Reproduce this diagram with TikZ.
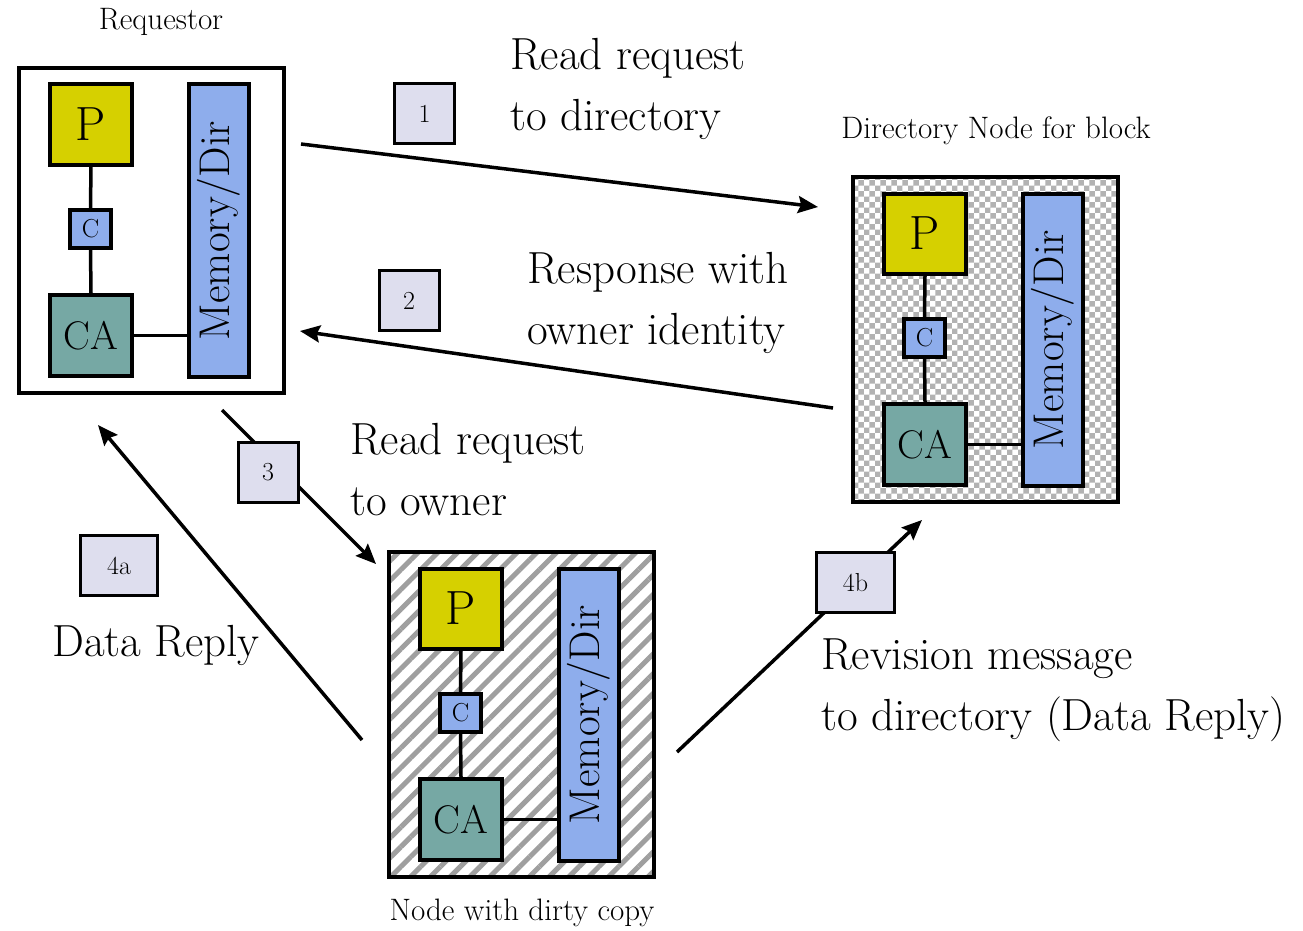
\documentclass[tikz,border=0pt]{standalone}
\usetikzlibrary{arrows.meta,patterns,patterns.meta}
\definecolor{pyel}{RGB}{214,208,0}
\definecolor{cblue}{RGB}{142,173,236}
\definecolor{cateal}{RGB}{118,168,164}
\definecolor{numbg}{RGB}{222,222,238}
\tikzset{
  outerbox/.style={draw=black,line width=4pt,minimum width=265pt,minimum height=325pt,inner sep=0pt},
  pbox/.style={draw=black,line width=4pt,fill=pyel,minimum width=82pt,minimum height=80pt,inner sep=0pt,font=\fontsize{48}{48}\selectfont},
  cbox/.style={draw=black,line width=4pt,fill=cblue,minimum width=41pt,minimum height=38pt,inner sep=0pt,font=\fontsize{26}{26}\selectfont},
  cabox/.style={draw=black,line width=4pt,fill=cateal,minimum width=82pt,minimum height=81pt,inner sep=0pt,font=\fontsize{40}{40}\selectfont},
  membox/.style={draw=black,line width=4pt,fill=cblue,minimum width=60pt,minimum height=292pt,inner sep=0pt},
  link/.style={line width=3.5pt},
  numbox/.style={draw=black,line width=3pt,fill=numbg,minimum width=60pt,minimum height=60pt,inner sep=0pt,font=\fontsize{26}{26}\selectfont},
  msg/.style={line width=3.5pt,-{Stealth[length=20pt,width=17pt,inset=3pt]}},
  bigtext/.style={anchor=west,inner sep=0pt,align=left,font=\fontsize{45}{61}\selectfont},
  smalltext/.style={inner sep=0pt,font=\fontsize{31}{32}\selectfont}
}
\newcommand{\compnode}[4]{%
  \begin{scope}[shift={(#2,#3)}]
    \node[outerbox,#4] (#1box) at (134.5,164.5) {};
    \node[pbox] (#1P) at (74,58.5) {P};
    \node[cbox] (#1C) at (73.5,163) {C};
    \node[cabox] (#1CA) at (74,269.5) {CA};
    \node[membox] (#1M) at (201.5,164.5) {\rotatebox{90}{\fontsize{43}{43}\selectfont Memory/Dir}};
    \draw[link] (#1P.south) -- (#1C.north);
    \draw[link] (#1C.south) -- (#1CA.north);
    \draw[link] (#1CA.east) -- (#1CA.east -| #1M.west);
  \end{scope}}
\begin{document}
\begin{tikzpicture}[x=1pt,y=-1pt]
\useasboundingbox[fill=white] (0,0) rectangle (1303,931);
% component nodes
\compnode{r}{17}{66}{fill=white}
\compnode{d}{851}{175}{preaction={fill=white},pattern=checkerboard,pattern color=gray!60}
\compnode{o}{387}{550}{preaction={fill=white},pattern={Lines[angle=45,distance=14pt,line width=5pt]},pattern color=gray!75}
% labels
\node[smalltext] (lreq) at (161,22) {Requestor};
\node[smalltext] (ldir) at (996,131) {Directory Node for block};
\node[smalltext] (lown) at (522,913) {Node with dirty copy};
% arrow end points
\coordinate (a1s) at (301,144);
\coordinate (a1e) at (818,207);
\coordinate (a2s) at (833,408);
\coordinate (a2e) at (300,331);
\coordinate (a3s) at (222,410);
\coordinate (a3e) at (376,564);
\coordinate (a4as) at (362,740);
\coordinate (a4ae) at (98,425);
\coordinate (a4bs) at (677,752);
\coordinate (a4be) at (922,520);
\draw[msg] (a1s) -- (a1e);
\draw[msg] (a2s) -- (a2e);
\draw[msg] (a3s) -- (a3e);
\draw[msg] (a4as) -- (a4ae);
\draw[msg] (a4bs) -- (a4be);
% number boxes
\node[numbox] (n1) at (424.5,113.5) {1};
\node[numbox] (n2) at (409,300.5) {2};
\node[numbox] (n3) at (268,472) {3};
\node[numbox,minimum width=77pt] (n4a) at (119,565.5) {4a};
\node[numbox,minimum width=78pt] (n4b) at (855.5,582.5) {4b};
% message texts
\node[bigtext] (t1) at (510,89) {Read request\\to directory};
\node[bigtext] (t2) at (527,303) {Response with\\owner identity};
\node[bigtext] (t3) at (350,470) {Read request\\to owner};
\node[bigtext] (t4a) at (52,645) {Data Reply};
\node[bigtext] (t4b) at (821,690) {Revision message\\to directory (Data Reply)};
\end{tikzpicture}
\end{document}
